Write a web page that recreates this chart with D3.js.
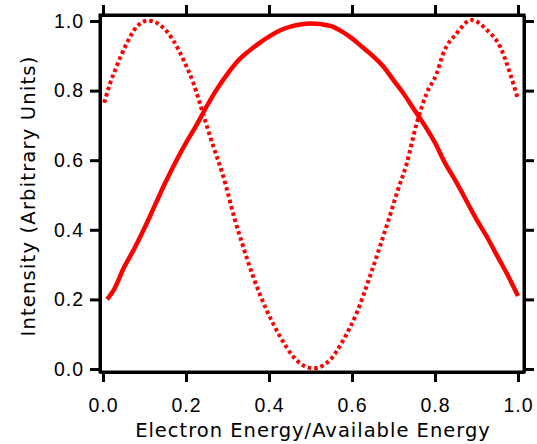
<!DOCTYPE html>
<html>
<head>
<meta charset="utf-8">
<script src="https://cdn.jsdelivr.net/npm/d3@7"></script>
<style>
  body { margin: 0; background: #fff; }
  svg { display: block; font-family: "DejaVu Sans", sans-serif; }
</style>
</head>
<body>
<div id="chart"></div>
<script>
// solid curve
const solidEnergy = [0.010, 0.025, 0.050, 0.075, 0.100, 0.125, 0.150, 0.175, 0.200, 0.225,
    0.250, 0.275, 0.300, 0.325, 0.350, 0.375, 0.400, 0.425, 0.450, 0.475,
    0.500, 0.525, 0.550, 0.575, 0.600, 0.625, 0.650, 0.675, 0.700, 0.725,
    0.750, 0.775, 0.800, 0.825, 0.850, 0.875, 0.900, 0.925, 0.950, 0.975, 1.000];
const solidIntensity = [0.200, 0.225, 0.290, 0.345, 0.405, 0.470, 0.535, 0.595, 0.650, 0.700,
    0.755, 0.805, 0.848, 0.885, 0.912, 0.935, 0.955, 0.972, 0.983, 0.990,
    0.993, 0.991, 0.985, 0.970, 0.950, 0.925, 0.900, 0.870, 0.830, 0.790,
    0.745, 0.700, 0.650, 0.590, 0.540, 0.485, 0.430, 0.380, 0.325, 0.270, 0.210];

// dotted curve
const dottedEnergy = [0.003, 0.017, 0.033, 0.057, 0.081, 0.109, 0.137, 0.169, 0.194, 0.218,
    0.242, 0.266, 0.290, 0.318, 0.338, 0.362, 0.394, 0.427, 0.459, 0.483,
    0.507, 0.530, 0.547, 0.579, 0.611, 0.643, 0.667, 0.688, 0.708, 0.732,
    0.756, 0.780, 0.804, 0.820, 0.852, 0.888, 0.925, 0.957, 0.981, 1.000];
const dottedIntensity = [0.765, 0.820, 0.870, 0.935, 0.983, 1.001, 0.989, 0.945, 0.888, 0.821,
    0.730, 0.639, 0.553, 0.428, 0.351, 0.265, 0.170, 0.093, 0.035, 0.010,
    0.002, 0.010, 0.026, 0.083, 0.160, 0.265, 0.351, 0.428, 0.505, 0.591,
    0.706, 0.792, 0.849, 0.907, 0.964, 1.003, 0.974, 0.926, 0.849, 0.775];

const tickValues = [0, 0.2, 0.4, 0.6, 0.8, 1.0];

const width = 537;
const height = 444;
const frame = {left: 100, right: 524, top: 15, bottom: 372};

const x = d3.scaleLinear()
    .domain([-0.0072, 1.0145])
    .range([frame.left, frame.right]);

const y = d3.scaleLinear()
    .domain([-0.0086, 1.0172])
    .range([frame.bottom, frame.top]);

const svg = d3.select('#chart').append('svg')
    .attr('width', width)
    .attr('height', height);

const fmt = d3.format('.1f');

function styleAxis(g) {
    g.selectAll('.domain').attr('stroke', '#000').attr('stroke-width', 3);
    g.selectAll('.tick line').attr('stroke', '#000').attr('stroke-width', 3);
    g.selectAll('.tick text').attr('fill', '#000').attr('font-size', 19.5).attr('letter-spacing', 1);
}

svg.append('g')
    .attr('transform', `translate(0,${frame.bottom})`)
    .call(d3.axisBottom(x).tickValues(tickValues).tickFormat(fmt).tickSize(10).tickSizeOuter(0).tickPadding(16))
    .call(styleAxis);

svg.append('g')
    .attr('transform', `translate(0,${frame.top})`)
    .call(d3.axisTop(x).tickValues(tickValues).tickFormat('').tickSize(10).tickSizeOuter(0))
    .call(styleAxis);

svg.append('g')
    .attr('transform', `translate(${frame.left},0)`)
    .call(d3.axisLeft(y).tickValues(tickValues).tickFormat(fmt).tickSize(10).tickSizeOuter(0).tickPadding(6))
    .call(styleAxis);

svg.append('g')
    .attr('transform', `translate(${frame.right},0)`)
    .call(d3.axisRight(y).tickValues(tickValues).tickFormat('').tickSize(10).tickSizeOuter(0))
    .call(styleAxis);

// corners so the frame closes cleanly
svg.append('rect')
    .attr('x', frame.left)
    .attr('y', frame.top)
    .attr('width', frame.right - frame.left)
    .attr('height', frame.bottom - frame.top)
    .attr('fill', 'none')
    .attr('stroke', '#000')
    .attr('stroke-width', 3);

const line = d3.line()
    .x(d => x(d[0]))
    .y(d => y(d[1]))
    .curve(d3.curveMonotoneX);

svg.append('path')
    .datum(d3.zip(dottedEnergy, dottedIntensity))
    .attr('fill', 'none')
    .attr('stroke', '#ff0000')
    .attr('stroke-width', 4)
    .attr('stroke-dasharray', '3.5,3')
    .attr('d', line);

svg.append('path')
    .datum(d3.zip(solidEnergy, solidIntensity))
    .attr('fill', 'none')
    .attr('stroke', '#ff0000')
    .attr('stroke-width', 4.5)
    .attr('stroke-linejoin', 'round')
    .attr('d', line);

svg.append('text')
    .attr('x', 313)
    .attr('y', 437)
    .attr('text-anchor', 'middle')
    .attr('font-size', 19.5)
    .attr('letter-spacing', 1)
    .text('Electron Energy/Available Energy');

svg.append('text')
    .attr('transform', 'translate(35,196) rotate(-90)')
    .attr('text-anchor', 'middle')
    .attr('font-size', 19.5)
    .attr('letter-spacing', 1.2)
    .text('Intensity (Arbitrary Units)');
</script>
</body>
</html>
